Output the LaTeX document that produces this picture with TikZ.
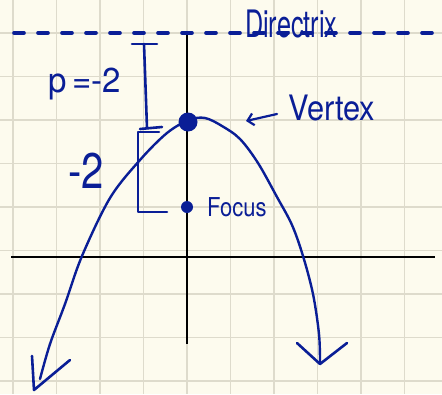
\documentclass[tikz,border=0pt]{standalone}
\usepackage{fontspec}
\setmainfont{TeX Gyre Heros}
\setsansfont{TeX Gyre Heros}
\usetikzlibrary{arrows.meta}
\definecolor{paper}{HTML}{FDFBEE}
\definecolor{gridc}{HTML}{DEDBCC}
\definecolor{ink}{HTML}{0A1E96}
\tikzset{
  inkline/.style={draw=ink, line width=2.6pt, line cap=round, line join=round},
  curve/.style={draw=ink, line width=2.4pt, line cap=round},
  axisline/.style={draw=black, line width=2.4pt},
  lbl/.style={text=ink, inner sep=0pt, anchor=base west},
  dotnode/.style={circle, fill=ink, inner sep=0pt}
}
\begin{document}
\begin{tikzpicture}[x=1pt,y=-1pt]
\useasboundingbox (0,0) rectangle (442,394);
\fill[paper] (0,0) rectangle (442,394);
% grid
\foreach \gx in {13,56.5,100,143.5,187,230.5,274,317.5,361,404.5}
  \draw[gridc, line width=1.2pt] (\gx,0) -- (\gx,394);
\foreach \gy in {33,76.5,120,163.5,207,250.5,294,337.5,381}
  \draw[gridc, line width=1.2pt] (0,\gy) -- (442,\gy);
% axes
\coordinate (yt) at (187,33);
\coordinate (yb) at (187,344);
\coordinate (xl) at (11,257);
\coordinate (xr) at (435,257);
\draw[axisline] (yt) -- (yb);
\draw[axisline] (xl) -- (xr);
% directrix
\coordinate (dl) at (14,33);
\coordinate (dr) at (442,33);
\draw[inkline, line width=3.6pt, dash pattern=on 10pt off 14pt] (dl) -- (dr);
\node[lbl] (dirlbl) at (245,37) {\scalebox{0.9}[1.35]{\fontsize{28}{28}\selectfont Directrix}};
% parabola
\draw[curve] plot[smooth, tension=0.55] coordinates {(40,379) (50,344) (65,304) (82,256) (110,198) (140,160) (167,133) (189,120) (205,118) (222,126) (240,139) (258,163) (277,197) (292,225) (303,256) (313,294) (319,334) (320,362)};
% arrowheads
\coordinate (lt) at (34,390);
\coordinate (la) at (32,356);
\coordinate (lb) at (70,360);
\draw[inkline] (la) -- (lt) -- (lb);
\coordinate (rt) at (320,364);
\coordinate (ra) at (297,343);
\coordinate (rb) at (347,343);
\draw[inkline] (ra) -- (rt) -- (rb);
% vertex and focus
\node[dotnode, minimum size=19pt] (vertex) at (188,122) {};
\node[dotnode, minimum size=12pt] (focus) at (187,207) {};
\node[lbl] (vlbl) at (288,120) {\scalebox{1.1}[1.25]{\fontsize{28}{28}\selectfont Vertex}};
\coordinate (va) at (277,114);
\coordinate (vb) at (246,121);
\draw[inkline, line width=2.2pt, -{Straight Barb[length=6pt,width=12pt]}] (va) -- (vb);
\node[lbl] (flbl) at (207,216) {\scalebox{1.1}[1.3]{\fontsize{20}{20}\selectfont Focus}};
% p bracket
\coordinate (t1) at (132,44);
\coordinate (t2) at (157,44);
\coordinate (tm) at (144,44);
\coordinate (bm) at (147,128);
\coordinate (b1) at (140,129);
\coordinate (b2) at (162,127);
\draw[inkline] (t1) -- (t2);
\draw[inkline] (tm) -- (bm);
\draw[inkline] (b1) -- (b2);
\coordinate (c1) at (159,132);
\coordinate (c2) at (138,132);
\coordinate (c3) at (138,212);
\coordinate (c4) at (167,212);
\draw[inkline] (c1) -- (c2) -- (c3) -- (c4);
\node[lbl] (plbl) at (48,92) {\scalebox{1.1}[1.15]{\fontsize{30}{30}\selectfont p\,=-2}};
\node[lbl] (mlbl) at (68,188) {\scalebox{1.0}[1.25]{\fontsize{40}{40}\selectfont -2}};
\end{tikzpicture}
\end{document}
